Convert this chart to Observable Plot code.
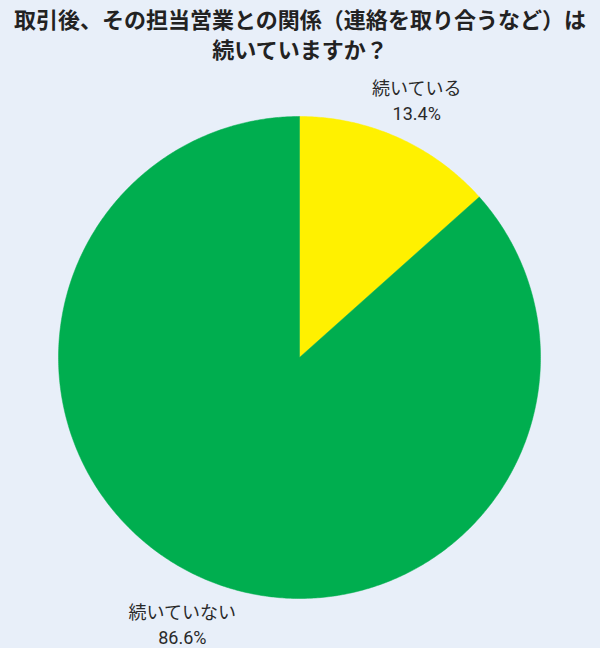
<!DOCTYPE html>
<html>
<head>
<meta charset="utf-8">
<script src="https://cdn.jsdelivr.net/npm/d3@7"></script>
<script src="https://cdn.jsdelivr.net/npm/@observablehq/plot@0.6"></script>
<style>
  html, body { margin: 0; padding: 0; background: #e8eff9; }
  body { width: 600px; height: 648px; overflow: hidden; font-family: Roboto, "Noto Sans CJK JP", sans-serif; }
  #title { height: 72px; box-sizing: border-box; padding-top: 6px; text-align: center; font-weight: bold; font-size: 22px; line-height: 30px; color: #222; }
  #chart svg { display: block; }
</style>
</head>
<body>
<div id="title">取引後、その担当営業との関係（連絡を取り合うなど）は<br>続いていますか？</div>
<div id="chart"></div>
<script>
const categories = ["続いている", "続いていない"];
const percents = [13.4, 86.6];
const colors = ["#fff100", "#00ae4f"];

const total = d3.sum(percents);
const slices = [];
let acc = 0;
categories.forEach((name, i) => {
  const a0 = acc / total * 2 * Math.PI;
  acc += percents[i];
  const a1 = acc / total * 2 * Math.PI;
  slices.push({name, value: percents[i], a0, a1});
});

// polygon points for each slice (angle measured clockwise from top)
const points = [];
for (const s of slices) {
  points.push({name: s.name, x: 0, y: 0});
  const n = Math.max(2, Math.ceil((s.a1 - s.a0) / (Math.PI / 360)));
  for (let k = 0; k <= n; k++) {
    const a = s.a0 + (s.a1 - s.a0) * k / n;
    points.push({name: s.name, x: Math.sin(a), y: Math.cos(a)});
  }
  points.push({name: s.name, x: 0, y: 0});
}

const labelR = 1.19;
const labels = slices.map(s => {
  const m = (s.a0 + s.a1) / 2;
  return {x: labelR * Math.sin(m), y: labelR * Math.cos(m), text: `${s.name}\n${s.value.toFixed(1)}%`};
});

const chart = Plot.plot({
  width: 600,
  height: 576,
  margin: 0,
  style: {background: "transparent", fontFamily: "Roboto, 'Noto Sans CJK JP', sans-serif"},
  x: {domain: [-1, 1], range: [58, 540], axis: null},
  y: {domain: [-1, 1], range: [526, 44], axis: null},
  color: {domain: categories, range: colors},
  marks: [
    Plot.line(points, {x: "x", y: "y", z: "name", fill: "name", stroke: "name", strokeWidth: 0.5, curve: "linear"}),
    Plot.text(labels, {x: "x", y: "y", text: "text", fontSize: 18, lineHeight: 1.4, fill: "#2a2a2a", dy: 4, textAnchor: "middle"})
  ]
});
document.getElementById("chart").appendChild(chart);
</script>
</body>
</html>
